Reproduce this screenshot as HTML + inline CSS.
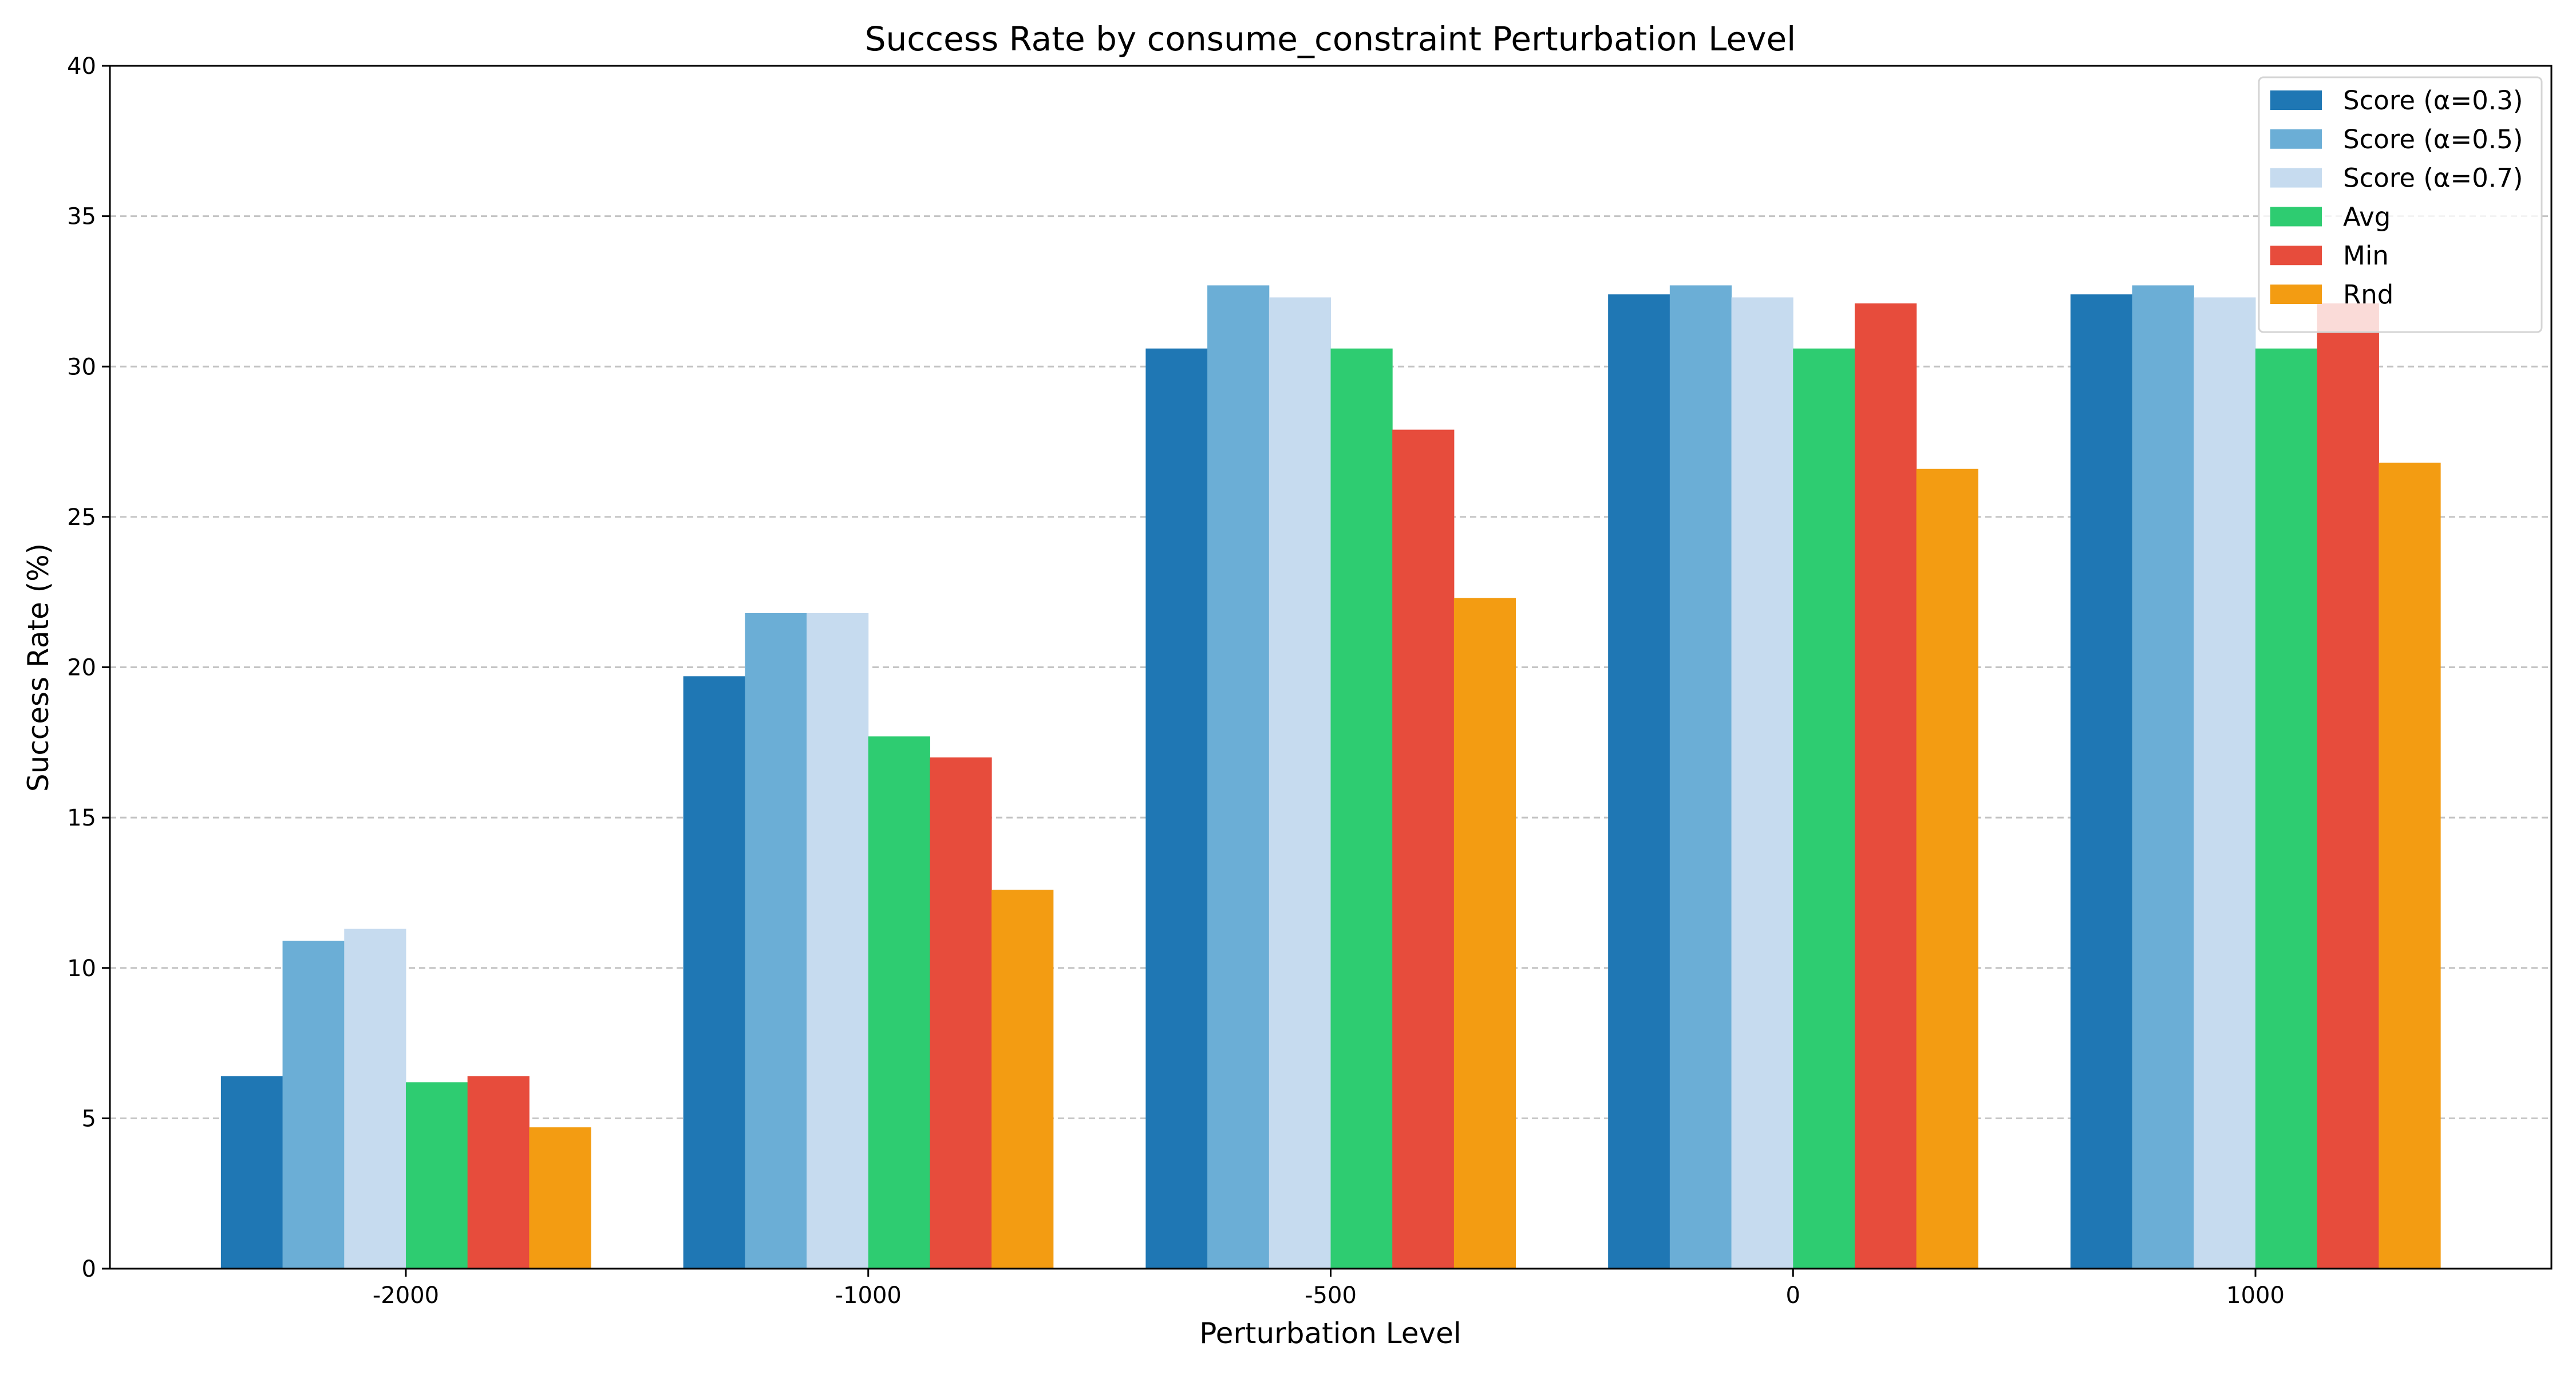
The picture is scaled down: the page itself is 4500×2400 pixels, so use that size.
<!DOCTYPE html>
<html><head><meta charset="utf-8"><style>
html,body{margin:0;padding:0;background:#fff}
svg{display:block;font-family:"DejaVu Sans","Liberation Sans",sans-serif}
</style></head><body>
<svg id="chart" width="4500" height="2400" viewBox="0 0 4500 2400" xmlns="http://www.w3.org/2000/svg">
<rect width="4500" height="2400" fill="#fff"/>
<g id="grid"></g>
<g id="bars"></g>
<g id="axes"></g>
<text x="2324" y="88" font-size="58" text-anchor="middle">Success Rate by consume_constraint Perturbation Level</text>
<text x="2324" y="2346" font-size="50" text-anchor="middle">Perturbation Level</text>
<text x="0" y="0" font-size="50" text-anchor="middle" transform="translate(84,1166) rotate(-90)">Success Rate (%)</text>
<g id="legend"></g>
</svg>
<script>
const categories = ["-2000", "-1000", "-500", "0", "1000"];
const seriesNames = ["Score (α=0.3)", "Score (α=0.5)", "Score (α=0.7)", "Avg", "Min", "Rnd"];
const score03 = [6.4, 19.7, 30.6, 32.4, 32.4];
const score05 = [10.9, 21.8, 32.7, 32.7, 32.7];
const score07 = [11.3, 21.8, 32.3, 32.3, 32.3];
const avgVals = [6.2, 17.7, 30.6, 30.6, 30.6];
const minVals = [6.4, 17.0, 27.9, 32.1, 32.1];
const rndVals = [4.7, 12.6, 22.3, 26.6, 26.8];
const yTicks = [0, 5, 10, 15, 20, 25, 30, 35, 40];

const series = [score03, score05, score07, avgVals, minVals, rndVals];
const colors = ["#1f77b4", "#6baed6", "#c6dbef", "#2ecc71", "#e74c3c", "#f39c12"];
const NS = "http://www.w3.org/2000/svg";
const L = 192, R = 4457, T = 115, B = 2216;
const yMax = 40;
const nCat = categories.length;
const xMin = -0.64, xMax = (nCat - 1) + 0.64;
const xScale = v => L + (v - xMin) / (xMax - xMin) * (R - L);
const yScale = v => B - v / yMax * (B - T);
const barW = 0.8 / series.length;

function mk(tag, attrs, parent) {
  const e = document.createElementNS(NS, tag);
  for (const k in attrs) e.setAttribute(k, attrs[k]);
  parent.appendChild(e);
  return e;
}
const grid = document.getElementById('grid');
const bars = document.getElementById('bars');
const axes = document.getElementById('axes');
const legend = document.getElementById('legend');

yTicks.forEach(t => {
  if (t > 0 && t < yMax) {
    const g = mk('line', {x1: L, x2: R, y1: yScale(t), y2: yScale(t), stroke: '#c4c4c4', 'stroke-width': 3, 'stroke-dasharray': '11 7'}, grid);
    
    
  }
  const tk = mk('line', {x1: L - 14, x2: L, y1: yScale(t), y2: yScale(t), stroke: '#000', 'stroke-width': 3}, axes);
  
  
  const tl = mk('text', {x: L - 24, y: yScale(t) + 14, 'font-size': 40, 'text-anchor': 'end'}, axes);
  tl.textContent = t;
  
  
});

series.forEach((vals, s) => {
  vals.forEach((v, i) => {
    const x0 = xScale(i - 0.4 + s * barW);
    const x1 = xScale(i - 0.4 + (s + 1) * barW);
    const r = mk('rect', {x: x0, y: yScale(v), width: x1 - x0 + 0.5, height: yScale(0) - yScale(v), fill: colors[s]}, bars);
    
    
  });
});

categories.forEach((c, i) => {
  const x = xScale(i);
  const tk = mk('line', {x1: x, x2: x, y1: B, y2: B + 14, stroke: '#000', 'stroke-width': 3}, axes);
  
  
  const tl = mk('text', {x: x, y: B + 60, 'font-size': 40, 'text-anchor': 'middle'}, axes);
  tl.textContent = c;
  
  
});

const frame = mk('rect', {x: L, y: T, width: R - L, height: B - T, fill: 'none', stroke: '#000', 'stroke-width': 3}, axes);



const lb = mk('rect', {x: 3946, y: 135, width: 494, height: 445, rx: 8, fill: '#fff', 'fill-opacity': 0.8, stroke: '#d4d4d4', 'stroke-width': 3}, legend);


seriesNames.forEach((n, s) => {
  const cy = 175 + s * 67.8;
  const p = mk('rect', {x: 3966, y: cy - 17, width: 90, height: 34, fill: colors[s]}, legend);
  
  
  const t = mk('text', {x: 4093, y: cy + 16, 'font-size': 45}, legend);
  t.textContent = n;
  
  
});
</script>
</body></html>
